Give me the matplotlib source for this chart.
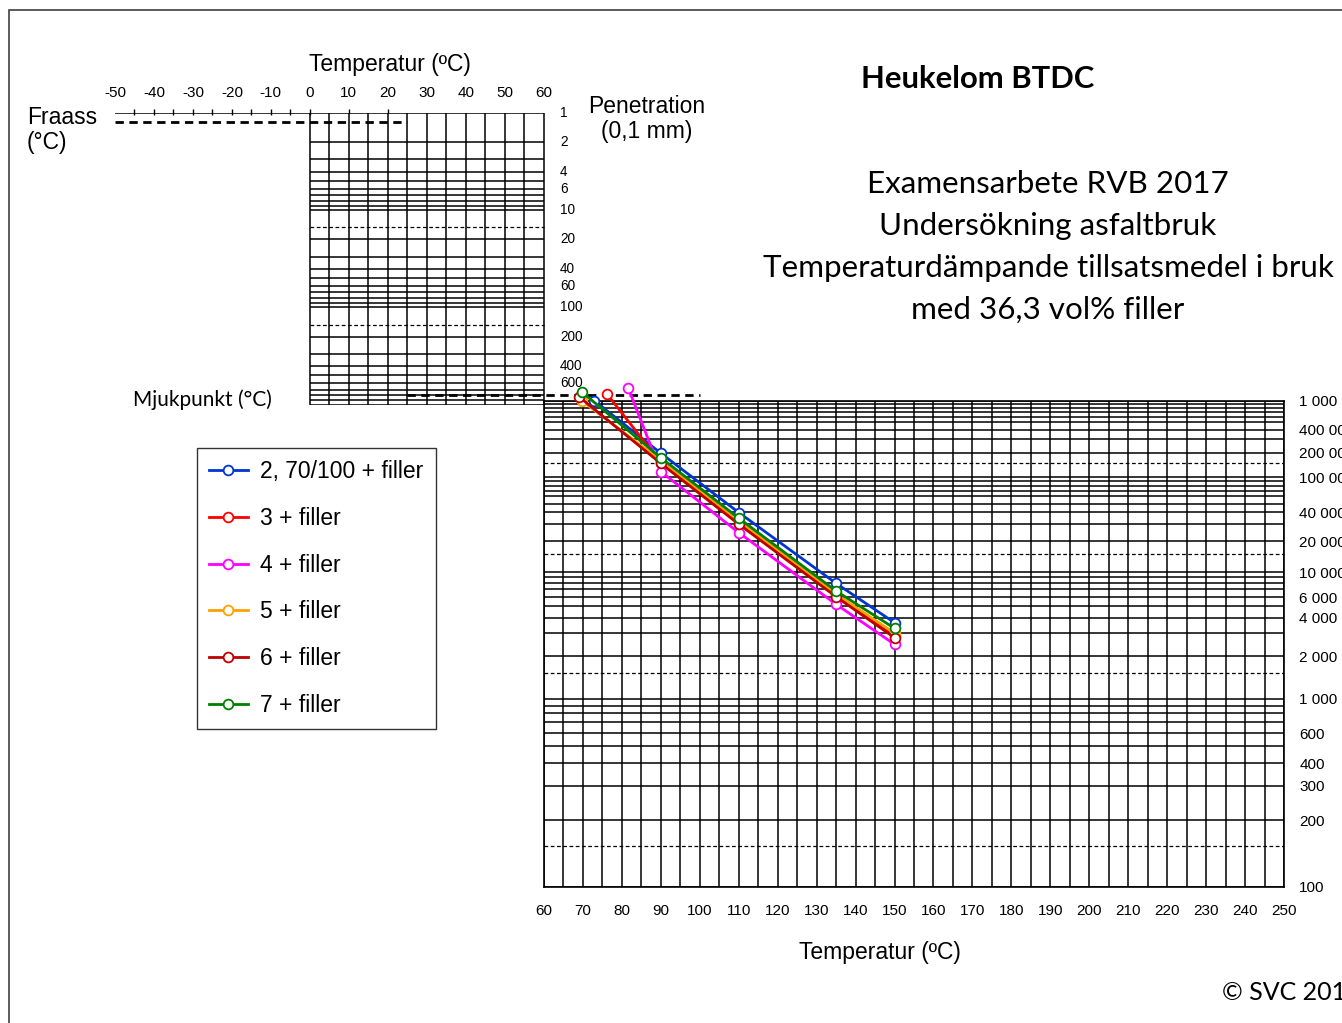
import matplotlib
matplotlib.use("Agg")
import matplotlib.pyplot as plt
import matplotlib.patches as patches
import numpy as np

plt.rcParams['font.family'] = ['Liberation Sans', 'DejaVu Sans']

# data: softening point temperature first, then viscosity test temperatures
temps = [90, 110, 135, 150]
series_names = ['2, 70/100 + filler', '3 + filler', '4 + filler',
                '5 + filler', '6 + filler', '7 + filler']
series_colors = ['#0035D0', '#FF0000', '#FF00FF', '#FFA000', '#C00000', '#008000']
soft_point = [72.9, 76.2, 81.6, 69.8, 69.0, 69.8]
soft_visc = [1.01e6, 1.26e6, 1.57e6, 1.0e6, 1.15e6, 1.34e6]
visc_2 = [197000, 39900, 7940, 3650]
visc_3 = [150000, 31000, 6200, 2830]
visc_4 = [117000, 24500, 5200, 2460]
visc_5 = [160000, 32500, 6370, 3010]
visc_6 = [147000, 30000, 6040, 2770]
visc_7 = [173000, 34700, 6780, 3290]
visc_all = [visc_2, visc_3, visc_4, visc_5, visc_6, visc_7]

# chart template values
pen_lines = [1, 2, 3, 4, 5, 6, 7, 8, 9, 10, 20, 30, 40, 50, 60, 70, 80, 90,
             100, 200, 300, 400, 500, 600, 700, 800, 900, 1000]
pen_dash = [15, 150]
pen_labels = [1, 2, 4, 6, 10, 20, 40, 60, 100, 200, 400, 600]
visc_lines = [m * 10 ** k for k in range(2, 6) for m in range(1, 10)] + [1e6]
visc_dash = [150, 1500, 15000, 150000]
visc_labels = [100, 200, 300, 400, 600, 1000, 2000, 4000, 6000, 10000,
               20000, 40000, 100000, 200000, 400000, 1000000]
top_ticks = list(range(-50, 61, 10))
fraass_ticks = list(range(-45, 1, 5))
bottom_ticks = list(range(60, 251, 10))
fraass_pen = 1.25
soft_pen = 800

W, H = 1342, 1023
fig = plt.figure(figsize=(W / 100, H / 100), dpi=100)


def box(x0, y0, x1, y1):
    return [x0 / W, 1 - y1 / H, (x1 - x0) / W, (y1 - y0) / H]


# figure frame
fig.patches.append(patches.Rectangle((9 / W, -0.1), 2, 1 - 10 / H + 0.1,
                                     transform=fig.transFigure, fill=False,
                                     edgecolor='#404040', linewidth=1.2))

# upper part: penetration grid and Fraass axis
ax_up = fig.add_axes(box(115, 113, 1284, 404.6))
ax_up.set_xlim(-50, 250)
ax_up.set_yscale('log')
ax_up.set_ylim(1000, 1)
for s in ax_up.spines.values():
    s.set_visible(False)
ax_up.patch.set_alpha(0)
ax_up.hlines(pen_lines, 0, 60, colors='k', lw=1.1)
ax_up.hlines(pen_dash, 0, 60, colors='k', lw=0.9, linestyles=(0, (3, 2)))
ax_up.vlines(np.arange(0, 61, 5), 1, 1000, colors='k', lw=1.1)
ax_up.hlines(1, -50, 0, colors='k', lw=1.1)
ax_up.vlines(fraass_ticks, 0.91, 1.06, colors='k', lw=1.0, clip_on=False)
ax_up.vlines([10, 20], 0.91, 1, colors='k', lw=1.0, clip_on=False)
ax_up.hlines(fraass_pen, -50, 25, colors='k', lw=2, linestyles=(0, (3, 2)), clip_on=False)
ax_up.hlines(soft_pen, 25, 100, colors='k', lw=2, linestyles=(0, (3, 2)), clip_on=False)
ax_up.xaxis.tick_top()
ax_up.set_xticks(top_ticks)
ax_up.set_xticklabels([str(t) for t in top_ticks], fontsize=11)
ax_up.tick_params(axis='x', length=0, pad=9)
ax_up.set_yticks([])
ax_up.minorticks_off()
for p in pen_labels:
    ax_up.text(64.2, p, str(p), fontsize=9.8, va='center', ha='left')

# lower part: viscosity grid
c = 0.4


def fwd(v):
    v = np.maximum(np.asarray(v, dtype=float), 10.0)
    return np.log10(np.log10(v) - c)


def inv(u):
    return 10 ** (10 ** np.asarray(u, dtype=float) + c)


ax_lo = fig.add_axes(box(544, 401, 1284, 887))
ax_lo.set_yscale('function', functions=(fwd, inv))
ax_lo.set_xlim(60, 250)
ax_lo.set_ylim(100, 1e6)
ax_lo.hlines(visc_lines, 60, 250, colors='k', lw=1.1)
ax_lo.hlines(visc_dash, 60, 250, colors='k', lw=0.9, linestyles=(0, (3, 2)))
ax_lo.vlines(np.arange(60, 251, 5), 100, 1e6, colors='k', lw=1.1)
for s in ax_lo.spines.values():
    s.set_linewidth(1.2)
ax_lo.set_xticks(bottom_ticks)
ax_lo.set_xticklabels([str(t) for t in bottom_ticks], fontsize=11)
ax_lo.tick_params(axis='x', length=0, pad=12)
ax_lo.yaxis.tick_right()
ax_lo.set_yticks(visc_labels)
ax_lo.set_yticklabels([f'{int(v):,}'.replace(',', ' ') for v in visc_labels], fontsize=11)
ax_lo.yaxis.set_minor_locator(matplotlib.ticker.NullLocator())
ax_lo.tick_params(axis='y', length=0, pad=11)

for name, col, ts, vs, visc in zip(series_names, series_colors, soft_point,
                                   soft_visc, visc_all):
    ax_lo.plot([ts] + temps, [vs] + visc, color=col, lw=2, marker='o',
               markersize=7, markerfacecolor='white', markeredgecolor=col,
               markeredgewidth=1.3, clip_on=False, zorder=5, label=name)

fig.legend(loc='upper left', bbox_to_anchor=(197 / W, 1 - 448 / H),
           fontsize=16.5, frameon=True, fancybox=False, edgecolor='k',
           borderpad=0.52, labelspacing=1.04, handlelength=1.7,
           handletextpad=0.55, borderaxespad=0).get_frame().set_linewidth(1.0)

# texts
fig.text(390 / W, 1 - 64 / H, 'Temperatur (ºC)', fontsize=16.5, ha='center', va='center')
fig.text(27 / W, 1 - 130 / H, 'Fraass\n(°C)', fontsize=16.5, ha='left', va='center',
         linespacing=1.1)
fig.text(647 / W, 1 - 119 / H, 'Penetration\n(0,1 mm)', fontsize=16.5, ha='center',
         va='center', linespacing=1.1)
fig.text(133 / W, 1 - 400 / H, 'Mjukpunkt (°C)', fontsize=15, ha='left', va='center',
         family=['Lato', 'DejaVu Sans'])
fig.text(880 / W, 1 - 953 / H, 'Temperatur (ºC)', fontsize=16.5, ha='center', va='center')
fig.text(978 / W, 1 - 79 / H, 'Heukelom BTDC', fontsize=22.3, fontweight='bold',
         ha='center', va='center', family=['Lato', 'DejaVu Sans'])
title_lines = ['Examensarbete RVB 2017', 'Undersökning asfaltbruk',
               'Temperaturdämpande tillsatsmedel i bruk', 'med 36,3 vol% filler']
for i, t in enumerate(title_lines):
    fig.text(1048 / W, 1 - (184 + i * 42) / H, t, fontsize=22.6, ha='center',
             va='center', family=['Lato', 'DejaVu Sans'])
fig.text(1222 / W, 1 - 993 / H, '© SVC 2017', fontsize=18, ha='left', va='center',
         family=['Lato', 'DejaVu Sans'])

fig.savefig('out.png', dpi=100)
